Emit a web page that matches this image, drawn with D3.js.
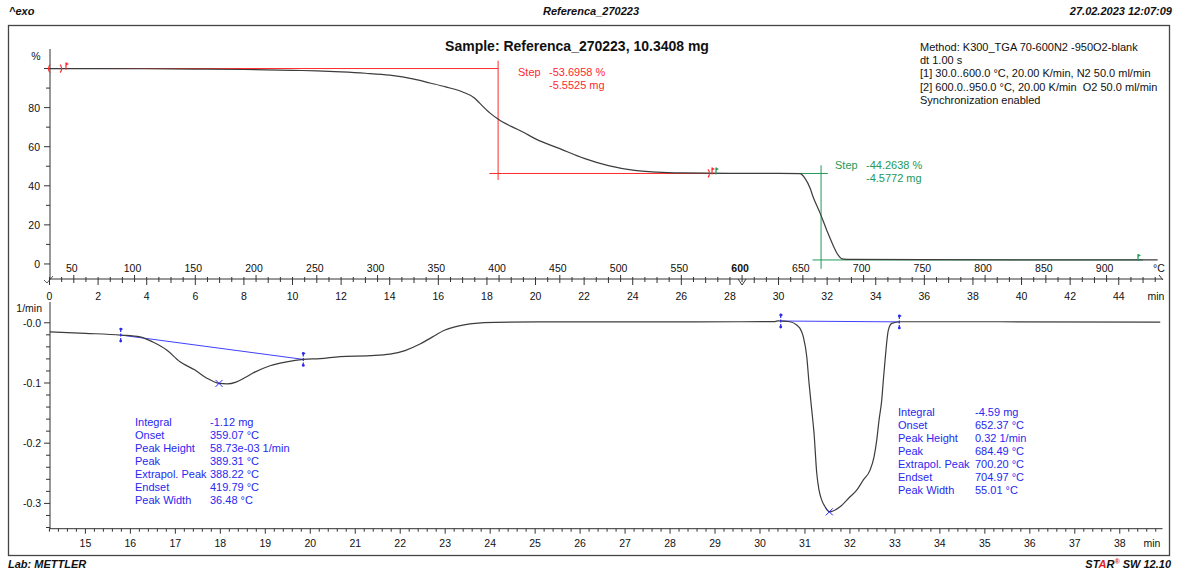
<!DOCTYPE html>
<html>
<head>
<meta charset="utf-8">
<script src="https://cdn.jsdelivr.net/npm/d3@7"></script>
<style>
  body { margin: 0; background: #fff; }
  svg { display: block; }
  text { font-family: "Liberation Sans", Arial, sans-serif; white-space: pre; }
</style>
</head>
<body>
<svg id="chart" width="1177" height="574"></svg>
<script>
// ---- TGA mass curve: time (min) and mass (%) ----
const tgaTime = [0, 2, 4, 6, 8, 10, 11, 12, 13, 14, 15, 15.66, 16.3, 17.0, 17.5, 17.7, 18.13, 18.5, 19.0, 19.5, 20, 21, 22, 23, 24, 25, 26, 28, 30, 30.88, 31.09, 31.3, 31.42, 31.71, 31.98, 32.24, 32.45, 32.61, 33, 36, 40, 45, 45.6];
const tgaMass = [100, 99.97, 99.9, 99.75, 99.5, 99.1, 98.8, 98.3, 97.6, 96.6, 94.6, 92.6, 90.6, 88.0, 84.8, 82.3, 77.2, 73.8, 70.4, 67.4, 64.0, 59.0, 54.0, 50.3, 48.0, 47.0, 46.6, 46.4, 46.35, 46.2, 43.8, 38.7, 34.4, 26.0, 17.4, 9.7, 4.6, 2.6, 2.3, 2.2, 2.12, 2.05, 2.04];

// ---- DTG curve: time (min) and rate (1/min) ----
const dtgTime = [14.21, 15.0, 15.785, 16.214, 16.5, 16.808, 17.104, 17.437, 17.7, 17.971, 18.15, 18.35, 18.55, 18.727, 19.105, 19.476, 19.845, 20.217, 20.66, 21.33, 21.77, 22.107, 22.44, 22.71, 22.996, 23.285, 23.663, 24.108, 25.331, 27.555, 29.556, 30.335, 30.401, 30.668, 30.817, 30.89, 30.964, 31.04, 31.091, 31.151, 31.202, 31.262, 31.313, 31.373, 31.447, 31.542, 31.78, 32.002, 32.151, 32.298, 32.447, 32.536, 32.596, 32.647, 32.707, 32.743, 32.781, 32.854, 32.93, 33.114, 35.338, 38.9];
const dtgValue = [-0.015, -0.0175, -0.0204, -0.0233, -0.032, -0.0453, -0.0648, -0.0786, -0.092, -0.1007, -0.1015, -0.0985, -0.091, -0.0835, -0.0714, -0.0648, -0.0608, -0.0595, -0.0561, -0.0545, -0.052, -0.0462, -0.0354, -0.0238, -0.0121, -0.0055, -0.001, 0.0008, 0.0015, 0.0015, 0.0017, 0.002, 0.0033, 0.0017, -0.0038, -0.0093, -0.0233, -0.0565, -0.1007, -0.145, -0.1837, -0.25, -0.278, -0.2945, -0.3056, -0.314, -0.3056, -0.289, -0.278, -0.261, -0.2447, -0.2226, -0.1949, -0.1616, -0.1284, -0.0952, -0.062, -0.0121, -0.001, 0.0017, 0.0017, 0.001];

// ---- Axis ticks ----
const massTicks = [0, 20, 40, 60, 80];
const rateTicks = [0, -0.1, -0.2, -0.3];
const rateTickLabels = ["-0.0", "-0.1", "-0.2", "-0.3"];
const minTicksTop = d3.range(0, 45, 2);
const tempTicks = d3.range(50, 901, 50);
const minTicksBottom = d3.range(15, 39, 1);

// ---- Step evaluations (levels in %) ----
const step1Levels = [100, 46.3042];
const step1Text = ["Step", "-53.6958 %", "-5.5525 mg"];
const step2Levels = [46.3042, 2.0404];
const step2Text = ["Step", "-44.2638 %", "-4.5772 mg"];

// ---- Peak integrations ----
const peakRows = ["Integral", "Onset", "Peak Height", "Peak", "Extrapol. Peak", "Endset", "Peak Width"];
const peak1Values = ["-1.12 mg", "359.07 °C", "58.73e-03 1/min", "389.31 °C", "388.22 °C", "419.79 °C", "36.48 °C"];
const peak2Values = ["-4.59 mg", "652.37 °C", "0.32 1/min", "684.49 °C", "700.20 °C", "704.97 °C", "55.01 °C"];
const peak1Limits = [15.785, 19.845];
const peak1Top = [17.971, -0.1007];
const peak2Limits = [30.461, 33.098];
const peak2Top = [31.542, -0.314];

// ---- Text blocks ----
const methodLines = [
  "Method: K300_TGA 70-600N2 -950O2-blank",
  "dt 1.00 s",
  "[1] 30.0..600.0 °C, 20.00 K/min, N2 50.0 ml/min",
  "[2] 600.0..950.0 °C, 20.00 K/min  O2 50.0 ml/min",
  "Synchronization enabled"
];
const sampleTitle = "Sample: Referenca_270223, 10.3408 mg";
const headerName = "Referenca_270223";
const headerDate = "27.02.2023 12:07:09";

// temperature programme: 30 °C start, 20 K/min
const tempToTime = T => (T - 30) / 20;

const RED = "#ff2a2a", GREEN = "#22995a", BLUE = "#2828f0", CURVE = "#3c3c3c", AX = "#333";

const svg = d3.select("#chart");

// scales
const xTop = d3.scaleLinear().domain([0, 45.8]).range([49.5, 1162.5]);
const yTop = d3.scaleLinear().domain([-7.7, 110]).range([279, 49]);
const xBot = d3.scaleLinear().domain([14.195, 38.95]).range([49.2, 1162.5]);
const yBot = d3.scaleLinear().domain([-0.342, 0.034]).range([528.7, 302.3]);

function txt(g, x, y, s, opt = {}) {
  return g.append("text").attr("x", x).attr("y", y).text(s)
    .attr("font-size", opt.size || 11)
    .attr("font-weight", opt.weight || "normal")
    .attr("font-style", opt.style || "normal")
    .attr("fill", opt.fill || "#111")
    .attr("text-anchor", opt.anchor || "start")
    .attr("dominant-baseline", "central");
}

// header / footer
txt(svg, 9, 11, "^exo", { weight: "bold", style: "italic", size: 11 });
txt(svg, 591, 11, headerName, { weight: "bold", style: "italic", size: 11, anchor: "middle" });
txt(svg, 1172, 11, headerDate, { weight: "bold", style: "italic", size: 11, anchor: "end" });
txt(svg, 8, 564, "Lab: METTLER", { weight: "bold", style: "italic", size: 11 });
const star = svg.append("text").attr("x", 1171).attr("y", 564).attr("text-anchor", "end")
  .attr("dominant-baseline", "central").attr("font-size", 11).attr("font-weight", "bold").attr("font-style", "italic");
star.append("tspan").text("ST").attr("fill", "#111");
star.append("tspan").text("A").attr("fill", "#e02020");
star.append("tspan").text("R").attr("fill", "#111");
star.append("tspan").text("®").attr("fill", "#e02020").attr("font-size", 7).attr("dy", -3);
star.append("tspan").text(" SW 12.10").attr("fill", "#111").attr("dy", 3);

// frame
svg.append("rect").attr("x", 8.5).attr("y", 25.5).attr("width", 1161).attr("height", 530)
  .attr("fill", "none").attr("stroke", "#444").attr("stroke-width", 1.3);

// ================= top panel =================
const topG = svg.append("g");
topG.append("line").attr("x1", 50).attr("x2", 50).attr("y1", 49).attr("y2", 279).attr("stroke", AX);
d3.range(0, 101, 10).forEach(v => {
  const major = v % 20 === 0;
  topG.append("line").attr("x1", major ? 44 : 46).attr("x2", 50)
    .attr("y1", yTop(v)).attr("y2", yTop(v)).attr("stroke", AX);
});
massTicks.forEach(v => txt(topG, 40, yTop(v), String(v), { anchor: "end", size: 10.5 }));
txt(topG, 36, 56, "%", { anchor: "middle", size: 10.5 });

// shared time / temperature axis
topG.append("line").attr("x1", xTop(0)).attr("x2", xTop(45.8)).attr("y1", 279).attr("y2", 279).attr("stroke", AX);
d3.range(0, 45.51, 0.5).forEach(t => {
  const T = 30 + 20 * t;
  const down = t % 2 === 0 ? 6 : (t % 1 === 0 ? 4 : 3);
  const up = T % 50 === 0 ? 4 : 2;
  topG.append("line").attr("x1", xTop(t)).attr("x2", xTop(t))
    .attr("y1", 279 - up).attr("y2", 279 + down).attr("stroke", AX);
});
minTicksTop.forEach(t => txt(topG, xTop(t), 296, String(t), { anchor: "middle", size: 10.5 }));
txt(topG, 1156, 296, "min", { anchor: "middle", size: 10.5 });
tempTicks.forEach(T => txt(topG, xTop(tempToTime(T)) - 2, 268, String(T),
  { anchor: "middle", size: 10.5, weight: T === 600 ? "bold" : "normal" }));
txt(topG, 1159, 268, "°C", { anchor: "middle", size: 10.5 });
// segment change marker and axis end marks
const x600 = xTop(tempToTime(600));
topG.append("path").attr("d", `M${x600 - 4},279 L${x600},285 L${x600 + 4},279`).attr("fill", "none").attr("stroke", AX);
topG.append("path").attr("d", "M44,280 L47,283 L53,276").attr("fill", "none").attr("stroke", AX).attr("stroke-width", 0.8);
topG.append("path").attr("d", "M1159,275 L1163,280").attr("fill", "none").attr("stroke", AX);

// step 1 construction (red)
const s1x = 18.46;
topG.append("line").attr("x1", xTop(0)).attr("x2", xTop(s1x)).attr("y1", yTop(step1Levels[0])).attr("y2", yTop(step1Levels[0])).attr("stroke", RED);
topG.append("line").attr("x1", xTop(s1x)).attr("x2", xTop(s1x)).attr("y1", yTop(104)).attr("y2", yTop(43)).attr("stroke", RED);
topG.append("line").attr("x1", xTop(18.1)).attr("x2", xTop(27.4)).attr("y1", yTop(step1Levels[1])).attr("y2", yTop(step1Levels[1])).attr("stroke", RED);
txt(topG, 518, 72, step1Text[0], { fill: RED });
txt(topG, 549, 72, step1Text[1], { fill: RED });
txt(topG, 549, 85, step1Text[2], { fill: RED });

// step 2 construction (green)
const s2x = 31.75;
topG.append("line").attr("x1", xTop(27.4)).attr("x2", xTop(32.03)).attr("y1", yTop(step2Levels[0])).attr("y2", yTop(step2Levels[0])).attr("stroke", GREEN);
topG.append("line").attr("x1", xTop(s2x)).attr("x2", xTop(s2x)).attr("y1", yTop(50.5)).attr("y2", yTop(-2.5)).attr("stroke", GREEN);
topG.append("line").attr("x1", xTop(31.4)).attr("x2", xTop(45.0)).attr("y1", yTop(step2Levels[1])).attr("y2", yTop(step2Levels[1])).attr("stroke", GREEN);
txt(topG, 835, 165, step2Text[0], { fill: GREEN });
txt(topG, 866, 165, step2Text[1], { fill: GREEN });
txt(topG, 866, 178, step2Text[2], { fill: GREEN });

// TGA curve
const tgaLine = d3.line().x(d => xTop(d[0])).y(d => yTop(d[1])).curve(d3.curveMonotoneX);
topG.append("path").attr("d", tgaLine(d3.zip(tgaTime, tgaMass)))
  .attr("fill", "none").attr("stroke", CURVE).attr("stroke-width", 1.2);

// evaluation limit markers
function bracket(g, x, y, dir, color) {
  g.append("path").attr("d", `M${x + dir * 2},${y - 4} Q${x - dir * 1},${y} ${x + dir * 2},${y + 4}`)
    .attr("fill", "none").attr("stroke", color).attr("stroke-width", 1.2);
}
function flag(g, x, y, color) {
  g.append("line").attr("x1", x).attr("x2", x).attr("y1", y - 5).attr("y2", y + 2).attr("stroke", color).attr("stroke-width", 1.2);
  g.append("path").attr("d", `M${x},${y - 5} L${x + 3},${y - 3.5} L${x},${y - 2} Z`).attr("fill", color);
}
bracket(topG, xTop(0) - 1.5, yTop(100), 1, RED);
bracket(topG, xTop(0.52), yTop(100), -1, RED);
flag(topG, 66, yTop(100) - 1, RED);
bracket(topG, 710, yTop(46.3), -1, RED);
flag(topG, 712, yTop(46.3) - 1, RED);
flag(topG, 716, yTop(46.3) - 1, GREEN);
flag(topG, 1138, yTop(2.04) - 1, GREEN);

// title and method
txt(svg, 577, 46, sampleTitle, { weight: "bold", size: 14, anchor: "middle" });
methodLines.forEach((s, i) => txt(svg, 920, 47 + i * 13.2, s, { size: 11 }));

// ================= bottom panel =================
const botG = svg.append("g");
botG.append("line").attr("x1", 50).attr("x2", 50).attr("y1", 302).attr("y2", 528.7).attr("stroke", AX);
d3.range(-34, 2, 2).forEach(k => {
  const v = k / 100;
  const major = k % 10 === 0;
  botG.append("line").attr("x1", major ? 44 : 46).attr("x2", 50)
    .attr("y1", yBot(v)).attr("y2", yBot(v)).attr("stroke", AX);
});
rateTicks.forEach((v, i) => txt(botG, 41, yBot(v), rateTickLabels[i], { anchor: "end", size: 10.5 }));
txt(botG, 42, 308, "1/min", { anchor: "end", size: 10.5 });

botG.append("line").attr("x1", xBot.range()[0]).attr("x2", xBot.range()[1]).attr("y1", 528.7).attr("y2", 528.7).attr("stroke", AX);
d3.range(14.2, 38.95, 0.2).forEach(t => {
  const major = Math.abs(t - Math.round(t)) < 0.01;
  botG.append("line").attr("x1", xBot(t)).attr("x2", xBot(t)).attr("y1", 528.7).attr("y2", 528.7 + (major ? 5 : 3)).attr("stroke", AX);
});
minTicksBottom.forEach(t => txt(botG, xBot(t), 543, String(t), { anchor: "middle", size: 10.5 }));
txt(botG, 1152, 543, "min", { anchor: "middle", size: 10.5 });

// DTG curve
const dtgLine = d3.line().x(d => xBot(d[0])).y(d => yBot(d[1])).curve(d3.curveMonotoneX);
const dtgPts = d3.zip(dtgTime, dtgValue);

// integration baselines
function valueAt(t) {
  const i = d3.bisectLeft(dtgTime, t);
  if (i <= 0) return dtgValue[0];
  const t0 = dtgTime[i - 1], t1 = dtgTime[i];
  return dtgValue[i - 1] + (dtgValue[i] - dtgValue[i - 1]) * (t - t0) / (t1 - t0);
}
function limitMark(g, t, v) {
  const x = xBot(t), y = yBot(v);
  g.append("line").attr("x1", x).attr("x2", x).attr("y1", y - 6).attr("y2", y + 6)
    .attr("stroke", BLUE).attr("stroke-width", 1.2).attr("stroke-dasharray", "3,1.5");
  g.append("circle").attr("cx", x).attr("cy", y - 6).attr("r", 1.4).attr("fill", BLUE);
  g.append("circle").attr("cx", x).attr("cy", y + 6).attr("r", 1.4).attr("fill", BLUE);
  g.append("line").attr("x1", x).attr("x2", x + 2).attr("y1", y - 6).attr("y2", y - 6).attr("stroke", BLUE);
}
function cross(g, t, v) {
  const x = xBot(t), y = yBot(v);
  g.append("path").attr("d", `M${x - 3.5},${y - 3.5} L${x + 3.5},${y + 3.5} M${x - 3.5},${y + 3.5} L${x + 3.5},${y - 3.5}`)
    .attr("stroke", BLUE).attr("stroke-width", 1);
}
[[peak1Limits, peak1Top], [peak2Limits, peak2Top]].forEach(([lim, pk]) => {
  const v0 = valueAt(lim[0]), v1 = valueAt(lim[1]);
  botG.append("line").attr("x1", xBot(lim[0])).attr("x2", xBot(lim[1]))
    .attr("y1", yBot(v0)).attr("y2", yBot(v1)).attr("stroke", "#4040ff").attr("stroke-width", 1);
});

botG.append("path").attr("d", dtgLine(dtgPts)).attr("fill", "none").attr("stroke", CURVE).attr("stroke-width", 1.2);

[[peak1Limits, peak1Top], [peak2Limits, peak2Top]].forEach(([lim, pk]) => {
  limitMark(botG, lim[0], valueAt(lim[0]));
  limitMark(botG, lim[1], valueAt(lim[1]));
  cross(botG, pk[0], pk[1]);
});

// result tables
peakRows.forEach((r, i) => {
  txt(botG, 135, 422 + i * 13, r, { fill: BLUE });
  txt(botG, 210, 422 + i * 13, peak1Values[i], { fill: BLUE });
  txt(botG, 898, 412 + i * 13.07, r, { fill: BLUE });
  txt(botG, 975, 412 + i * 13.07, peak2Values[i], { fill: BLUE });
});
</script>
</body>
</html>
